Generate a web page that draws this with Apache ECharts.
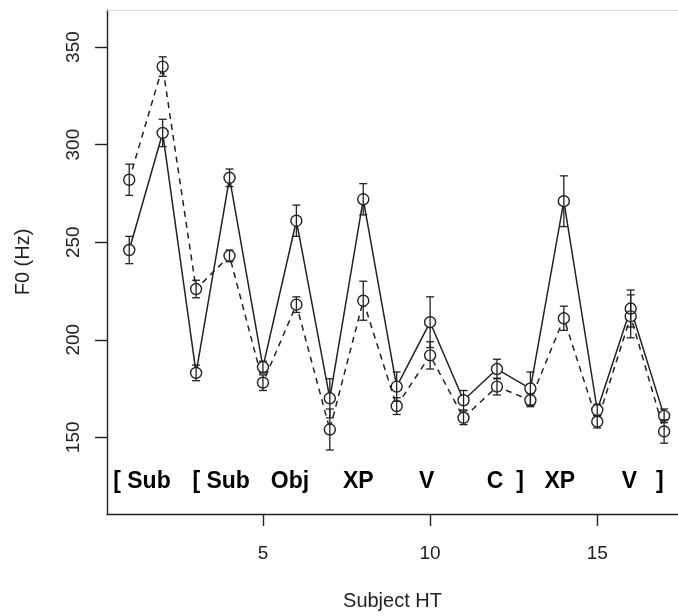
<!DOCTYPE html>
<html>
<head>
<meta charset="utf-8">
<script src="https://cdn.jsdelivr.net/npm/echarts@6/dist/echarts.min.js"></script>
<style>
  html, body { margin: 0; padding: 0; background: #fff; }
  #main { width: 678px; height: 616px; }
</style>
</head>
<body>
<div id="main"></div>
<script>
// positions along the utterance (x) 
var positions = [1, 2, 3, 4, 5, 6, 7, 8, 9, 10, 11, 12, 13, 14, 15, 16, 17];
// solid line series: mean F0 and error
var solidMean = [246, 306, 183, 283, 186, 261, 170, 272, 176, 209, 169, 185, 175, 271, 164, 216, 161];
var solidErr = [7, 7, 4, 4.5, 3, 8, 10, 8, 7.5, 13, 5, 5, 8.5, 13, 3, 9.5, 3.5];
// dashed line series
var dashedMean = [282, 340, 226, 243, 178, 218, 154, 220, 166, 192, 160, 176, 169, 211, 158, 212, 153];
var dashedErr = [8, 5, 4.5, 3, 4, 4, 10.5, 10, 4.3, 7, 3.5, 4.3, 3.3, 6.2, 3.2, 11, 6];
// constituent labels written inside the plot
var wordLabels = ['[ Sub', '[ Sub', 'Obj', 'XP', 'V', 'C', ']', 'XP', 'V', ']'];
var wordX = [1.38, 3.75, 5.81, 7.85, 9.9, 11.94, 12.69, 13.88, 15.96, 16.87];
var wordY = 127.5;
// tick labels
var xTicks = [5, 10, 15];
var yTicks = [150, 200, 250, 300, 350];

var ink = '#222';
var font = '"Liberation Sans", Arial, sans-serif';

function pairs(xs, ys) {
  return xs.map(function (x, i) { return [x, ys[i]]; });
}
function errRows(xs, m, e) {
  return xs.map(function (x, i) { return [x, m[i] - e[i], m[i] + e[i]]; });
}

function renderErr(params, api) {
  var x = api.value(0);
  var lo = api.coord([x, api.value(1)]);
  var hi = api.coord([x, api.value(2)]);
  var w = 4;
  var st = { stroke: ink, lineWidth: 1.3 };
  return {
    type: 'group',
    children: [
      { type: 'line', shape: { x1: hi[0], y1: hi[1], x2: lo[0], y2: lo[1] }, style: st },
      { type: 'line', shape: { x1: hi[0] - w, y1: hi[1], x2: hi[0] + w, y2: hi[1] }, style: st },
      { type: 'line', shape: { x1: lo[0] - w, y1: lo[1], x2: lo[0] + w, y2: lo[1] }, style: st }
    ]
  };
}

var chart = echarts.init(document.getElementById('main'));

var option = {
  backgroundColor: '#fff',
  animation: false,
  grid: { left: 107, right: 0, top: 10, bottom: 100 },
  xAxis: [{
    type: 'value',
    min: 0.335,
    max: 17.415,
    name: 'Subject HT',
    nameLocation: 'middle',
    nameGap: 77,
    nameTextStyle: { fontFamily: font, fontSize: 20, color: ink },
    splitLine: { show: false },
    axisLine: { lineStyle: { color: ink, width: 1.4 } },
    axisTick: { customValues: xTicks, length: 12, lineStyle: { color: ink, width: 1.4 } },
    axisLabel: { customValues: xTicks, margin: 30, fontFamily: font, fontSize: 19, color: ink }
  }, {
    type: 'value',
    position: 'top',
    min: 0.335,
    max: 17.415,
    splitLine: { show: false },
    axisLine: { lineStyle: { color: '#d9d9d9', width: 1 } },
    axisTick: { show: false },
    axisLabel: { show: false }
  }],
  yAxis: {
    type: 'value',
    min: 110.7,
    max: 369,
    name: 'F0 (Hz)',
    nameLocation: 'middle',
    nameGap: 74,
    nameRotate: 90,
    nameTextStyle: { fontFamily: font, fontSize: 20, color: ink },
    splitLine: { show: false },
    axisLine: { onZero: false, lineStyle: { color: ink, width: 1.4 } },
    axisTick: { customValues: yTicks, length: 12, lineStyle: { color: ink, width: 1.4 } },
    axisLabel: { customValues: yTicks, rotate: 90, margin: 24, fontFamily: font, fontSize: 19, color: ink }
  },
  series: [
    {
      type: 'line',
      data: pairs(positions, solidMean),
      symbol: 'circle',
      symbolSize: 11,
      itemStyle: { color: '#fff' },
      lineStyle: { color: ink, width: 1.5 },
      z: 2
    },
    {
      type: 'line',
      data: pairs(positions, dashedMean),
      symbol: 'circle',
      symbolSize: 11,
      itemStyle: { color: '#fff' },
      lineStyle: { color: ink, width: 1.5, type: [6, 5] },
      z: 2
    },
    {
      type: 'scatter',
      data: pairs(positions, solidMean).concat(pairs(positions, dashedMean)),
      symbol: 'circle',
      symbolSize: 11,
      itemStyle: { color: 'rgba(0,0,0,0)', borderColor: ink, borderWidth: 1.4, opacity: 1 },
      z: 4
    },
    {
      type: 'custom',
      renderItem: renderErr,
      data: errRows(positions, solidMean, solidErr).concat(errRows(positions, dashedMean, dashedErr)),
      z: 5
    },
    {
      type: 'scatter',
      symbolSize: 0,
      itemStyle: { opacity: 1 },
      data: wordX.map(function (x, i) { return { value: [x, wordY], name: wordLabels[i] }; }),
      label: {
        show: true,
        position: 'inside',
        formatter: function (p) { return p.name; },
        fontFamily: font,
        fontWeight: 'bold',
        fontSize: 23,
        color: '#000'
      },
      z: 6
    }
  ]
};

chart.setOption(option);
</script>
</body>
</html>
